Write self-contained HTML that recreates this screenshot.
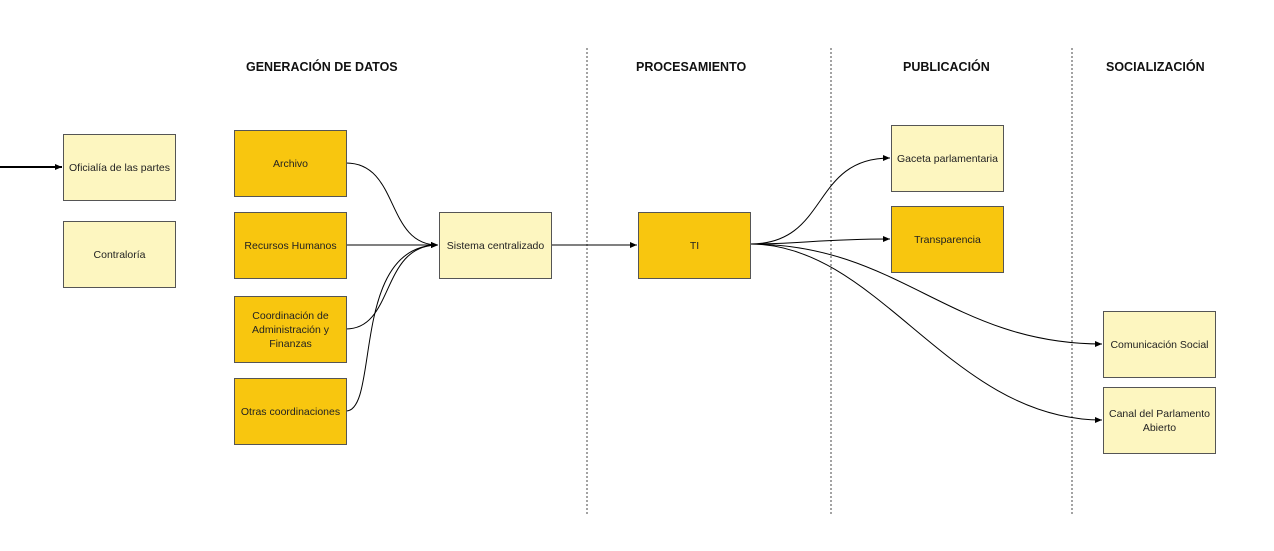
<!DOCTYPE html>
<html><head><meta charset="utf-8"><style>
body{margin:0;width:1274px;height:551px;background:#fff;overflow:hidden;font-family:"Liberation Sans",sans-serif}
.b{position:absolute;width:113px;height:67px;border:1px solid #555;display:flex;align-items:center;justify-content:center;text-align:center;font-size:10.5px;color:#222;line-height:14px;box-sizing:border-box;padding:0 2px}
.l{background:#fdf6c0}.d{background:#f8c60f}
.h{position:absolute;top:60px;font-size:12.5px;font-weight:bold;color:#111}
</style></head><body>
<div class="h" style="left:246px">GENERACIÓN DE DATOS</div>
<div class="h" style="left:636px">PROCESAMIENTO</div>
<div class="h" style="left:903px">PUBLICACIÓN</div>
<div class="h" style="left:1106px">SOCIALIZACIÓN</div>
<svg width="1274" height="551" style="position:absolute;left:0;top:0">
<defs><marker id="a" markerWidth="8" markerHeight="8" refX="7" refY="3" orient="auto" markerUnits="userSpaceOnUse"><path d="M0,0L7,3L0,6z" fill="#000"/></marker></defs>
<g stroke="#666" stroke-width="1.2" stroke-dasharray="2,2"><line x1="587" y1="48" x2="587" y2="515"/><line x1="831" y1="48" x2="831" y2="515"/><line x1="1072" y1="48" x2="1072" y2="515"/></g>
<g fill="none" stroke="#000" stroke-width="1">
<path d="M0,167H62" stroke-width="2" marker-end="url(#a)"/>
<path d="M346,163C400,163 385,245 438,245" marker-end="url(#a)"/>
<path d="M346,245H438" marker-end="url(#a)"/>
<path d="M346,329C395,329 380,245 438,245" marker-end="url(#a)"/>
<path d="M346,411C380,411 350,245 438,245" marker-end="url(#a)"/>
<path d="M551,245H637" marker-end="url(#a)"/>
<path d="M750,244C830,244 810,158 890,158" marker-end="url(#a)"/>
<path d="M750,244C800,244 820,239 890,239" marker-end="url(#a)"/>
<path d="M750,244C900,244 950,344 1102,344" marker-end="url(#a)"/>
<path d="M750,244C880,244 950,420 1102,420" marker-end="url(#a)"/>
</g></svg>
<div class="b l" style="left:63px;top:134px">Oficialía de las partes</div>
<div class="b l" style="left:63px;top:221px">Contraloría</div>
<div class="b d" style="left:234px;top:130px">Archivo</div>
<div class="b d" style="left:234px;top:212px">Recursos Humanos</div>
<div class="b d" style="left:234px;top:296px">Coordinación de<br>Administración y<br>Finanzas</div>
<div class="b d" style="left:234px;top:378px">Otras coordinaciones</div>
<div class="b l" style="left:439px;top:212px">Sistema centralizado</div>
<div class="b d" style="left:638px;top:212px">TI</div>
<div class="b l" style="left:891px;top:125px">Gaceta parlamentaria</div>
<div class="b d" style="left:891px;top:206px">Transparencia</div>
<div class="b l" style="left:1103px;top:311px">Comunicación Social</div>
<div class="b l" style="left:1103px;top:387px">Canal del Parlamento<br>Abierto</div>
</body></html>
